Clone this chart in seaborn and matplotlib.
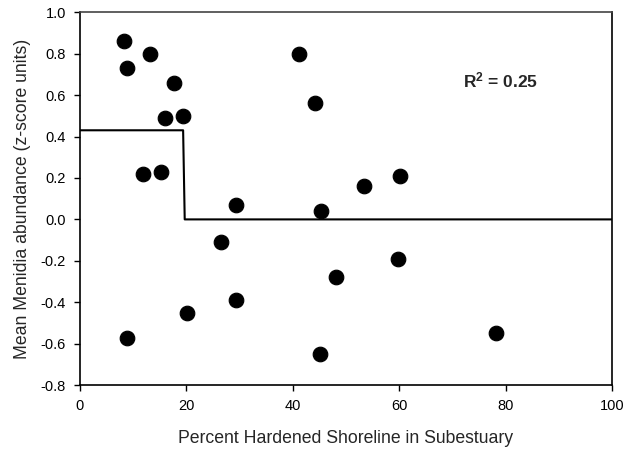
import numpy as np
import pandas as pd
import matplotlib
matplotlib.use('Agg')
import matplotlib.pyplot as plt
import seaborn as sns

# percent hardened shoreline vs mean Menidia abundance (z-scores)
hardened = [8.3, 8.8, 13.2, 17.7, 16.0, 19.4, 11.8, 15.2, 29.3, 26.5, 29.3,
            20.1, 8.8, 41.2, 44.2, 45.3, 45.1, 48.1, 53.4, 60.2, 59.8, 78.2]
abundance = [0.86, 0.73, 0.80, 0.66, 0.49, 0.50, 0.22, 0.23, 0.07, -0.11, -0.39,
             -0.45, -0.57, 0.80, 0.56, 0.04, -0.65, -0.28, 0.16, 0.21, -0.19, -0.55]

# threshold (step) model fit
step_x = [0, 19.4, 19.7, 100]
step_y = [0.43, 0.43, 0.0, 0.0]

y_ticks = [-0.8, -0.6, -0.4, -0.2, 0.0, 0.2, 0.4, 0.6, 0.8, 1.0]
y_labels = ['-0.8', '-0.6', '-0.4', '-0.2', '0.0', '0.2', '0.4', '0.6', '0.8', '1.0']
x_ticks = [0, 20, 40, 60, 80, 100]

df = pd.DataFrame({'x': hardened, 'y': abundance})

sns.set_style('white')
plt.rcParams['font.family'] = ['Liberation Sans', 'DejaVu Sans']
plt.rcParams['mathtext.fontset'] = 'custom'
plt.rcParams['mathtext.rm'] = 'Liberation Sans'
plt.rcParams['mathtext.bf'] = 'Liberation Sans:bold'

fig = plt.figure(figsize=(6.29, 4.5), dpi=100)
ax = fig.add_axes([0.127, 0.144, 0.846, 0.829])

sns.lineplot(x=step_x, y=step_y, ax=ax, color='black', linewidth=1.5,
             sort=False, estimator=None)
sns.scatterplot(data=df, x='x', y='y', ax=ax, color='black', s=110,
                edgecolor='black', zorder=3)

ax.set_xlim(0, 100)
ax.set_ylim(-0.8, 1.0)
ax.set_xticks(x_ticks)
ax.set_yticks(y_ticks)
ax.set_yticklabels(y_labels)

ax.set_xlabel('Percent Hardened Shoreline in Subestuary', fontsize=12.7, labelpad=12)
ax.set_ylabel('Mean Menidia abundance (z-score units)', fontsize=12.7, labelpad=7)

ax.tick_params(axis='both', which='major', labelsize=10.5, direction='out',
               length=4, width=1, bottom=True, left=True, top=False, right=False,
               colors='black', pad=6)
for side in ['left', 'bottom', 'right']:
    ax.spines[side].set_color('black')
    ax.spines[side].set_linewidth(1.2)
ax.spines['top'].set_color('#444444')
ax.spines['top'].set_linewidth(1.2)

ax.text(72, 0.67, r'$\mathbf{R^2}$ = 0.25', fontsize=12.5, fontweight='bold',
        ha='left', va='center')

fig.savefig('out.png', dpi=100)
